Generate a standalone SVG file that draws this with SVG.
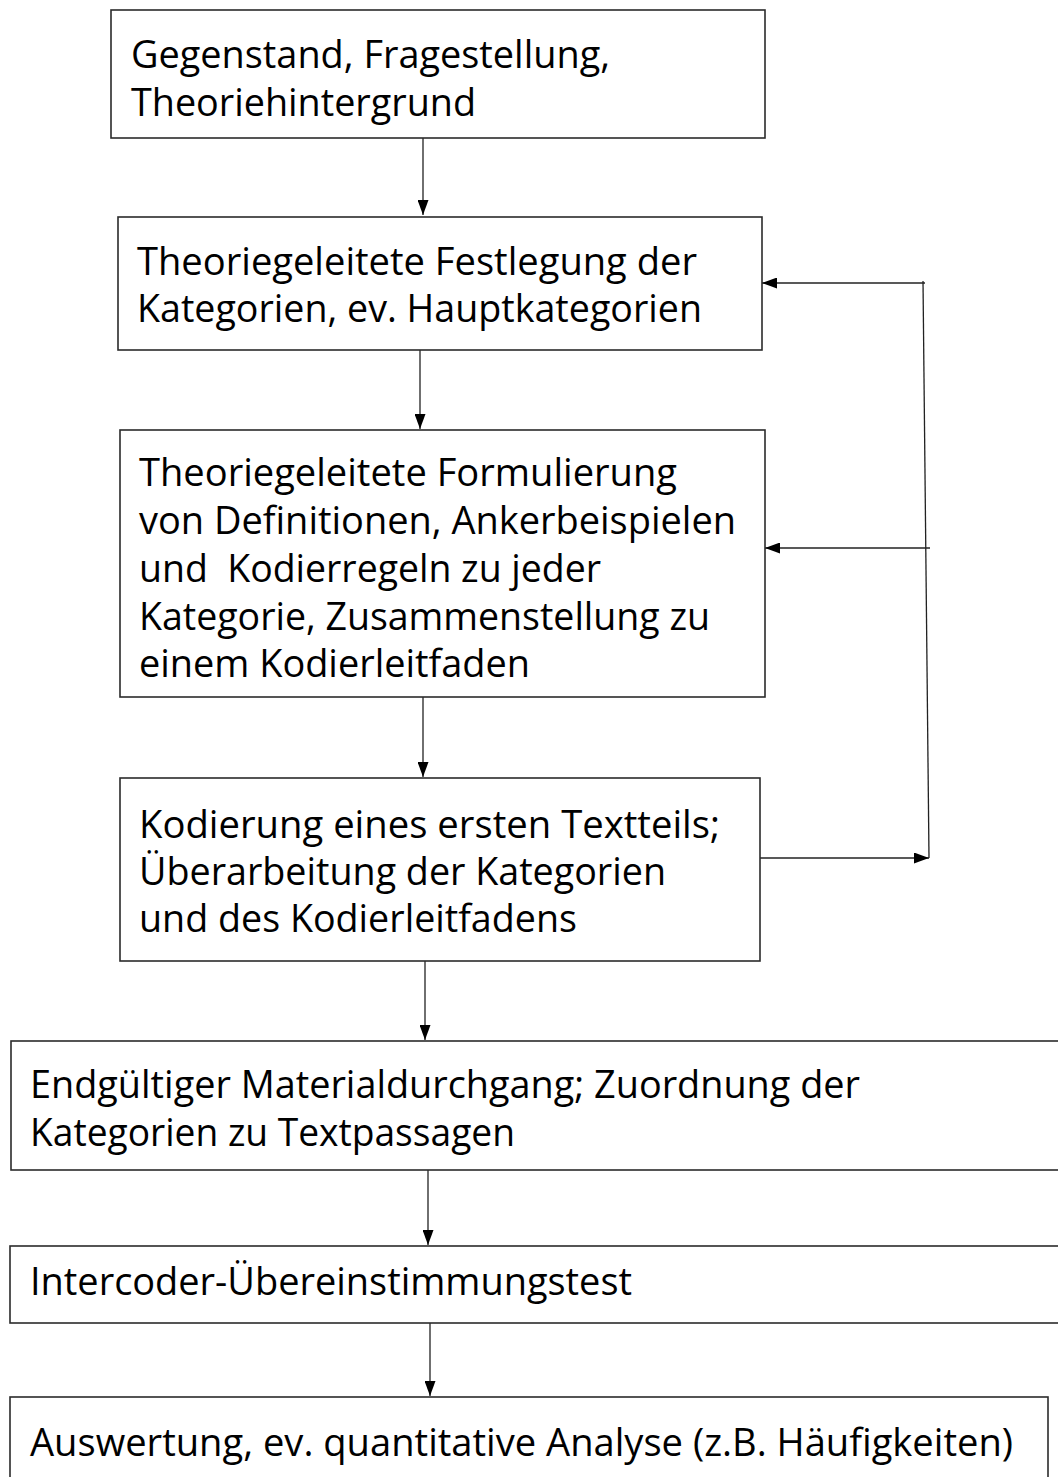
<svg xmlns="http://www.w3.org/2000/svg" width="1058" height="1477" viewBox="0 0 1058 1477">
<style>
.box{fill:#fff;stroke:#2b2b2b;stroke-width:1.6}
.t{font-family:"Open Sans","DejaVu Sans",sans-serif;font-size:38px;fill:#000}
.c{fill:none;stroke:#222;stroke-width:1.3}
</style>
<defs>
<marker id="ah" viewBox="0 0 15 11" refX="15" refY="5.5" markerWidth="15" markerHeight="11" markerUnits="userSpaceOnUse" orient="auto">
<path d="M0,0 L15,5.5 L0,11 Z" fill="#000"/>
</marker>
</defs>
<rect x="0" y="0" width="1058" height="1477" fill="#fff"/>
<g id="connectors">
<line class="c" x1="423" y1="138" x2="423" y2="215" marker-end="url(#ah)"/>
<line class="c" x1="420" y1="350" x2="420" y2="429" marker-end="url(#ah)"/>
<line class="c" x1="423" y1="697" x2="423" y2="777" marker-end="url(#ah)"/>
<line class="c" x1="425" y1="961" x2="425" y2="1040" marker-end="url(#ah)"/>
<line class="c" x1="428" y1="1170" x2="428" y2="1245" marker-end="url(#ah)"/>
<line class="c" x1="430" y1="1323" x2="430" y2="1396" marker-end="url(#ah)"/>
<line class="c" x1="760" y1="858" x2="929" y2="858" marker-end="url(#ah)"/>
<line class="c" x1="929" y1="858" x2="923" y2="281"/>
<line class="c" x1="925" y1="283" x2="762" y2="283" marker-end="url(#ah)"/>
<line class="c" x1="930" y1="548" x2="765" y2="548" marker-end="url(#ah)"/>
</g>
<g id="n1">
<rect class="box" x="111" y="10" width="654" height="128"/>
<text class="t" x="131" y="68" textLength="479" lengthAdjust="spacingAndGlyphs">Gegenstand, Fragestellung,</text>
<text class="t" x="131" y="116" textLength="345" lengthAdjust="spacingAndGlyphs">Theoriehintergrund</text>
</g>
<g id="n2">
<rect class="box" x="118" y="217" width="644" height="133"/>
<text class="t" x="137" y="275" textLength="560" lengthAdjust="spacingAndGlyphs">Theoriegeleitete Festlegung der</text>
<text class="t" x="137" y="322" textLength="565" lengthAdjust="spacingAndGlyphs">Kategorien, ev. Hauptkategorien</text>
</g>
<g id="n3">
<rect class="box" x="120" y="430" width="645" height="267"/>
<text class="t" x="139" y="486" textLength="538" lengthAdjust="spacingAndGlyphs">Theoriegeleitete Formulierung</text>
<text class="t" x="139" y="534" textLength="597" lengthAdjust="spacingAndGlyphs">von Definitionen, Ankerbeispielen</text>
<text class="t" x="139" y="582" textLength="462" lengthAdjust="spacingAndGlyphs" xml:space="preserve">und  Kodierregeln zu jeder</text>
<text class="t" x="139" y="630" textLength="571" lengthAdjust="spacingAndGlyphs">Kategorie, Zusammenstellung zu</text>
<text class="t" x="139" y="677" textLength="391" lengthAdjust="spacingAndGlyphs">einem Kodierleitfaden</text>
</g>
<g id="n4">
<rect class="box" x="120" y="778" width="640" height="183"/>
<text class="t" x="139" y="838" textLength="581" lengthAdjust="spacingAndGlyphs">Kodierung eines ersten Textteils;</text>
<text class="t" x="139" y="885" textLength="527" lengthAdjust="spacingAndGlyphs">Überarbeitung der Kategorien</text>
<text class="t" x="139" y="932" textLength="438" lengthAdjust="spacingAndGlyphs">und des Kodierleitfadens</text>
</g>
<g id="n5">
<rect class="box" x="11" y="1041" width="1060" height="129"/>
<text class="t" x="30" y="1098" textLength="830" lengthAdjust="spacingAndGlyphs">Endgültiger Materialdurchgang; Zuordnung der</text>
<text class="t" x="30" y="1146" textLength="485" lengthAdjust="spacingAndGlyphs">Kategorien zu Textpassagen</text>
</g>
<g id="n6">
<rect class="box" x="10" y="1246" width="1060" height="77"/>
<text class="t" x="30" y="1295" textLength="602" lengthAdjust="spacingAndGlyphs">Intercoder-Übereinstimmungstest</text>
</g>
<g id="n7">
<rect class="box" x="10" y="1397" width="1038" height="100"/>
<text class="t" x="30" y="1456" textLength="983" lengthAdjust="spacingAndGlyphs">Auswertung, ev. quantitative Analyse (z.B. Häufigkeiten)</text>
</g>
</svg>
